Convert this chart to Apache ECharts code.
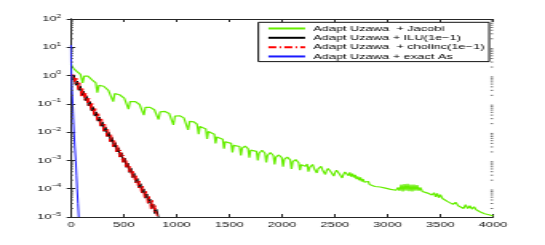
<!DOCTYPE html>
<html>
<head>
<meta charset="utf-8">
<script src="https://cdn.jsdelivr.net/npm/echarts@6/dist/echarts.min.js"></script>
<style>
html,body{margin:0;padding:0;background:#fff;overflow:hidden;}
#c{width:341px;height:245px;transform:scaleX(1.59824);transform-origin:0 0;}
</style>
</head>
<body>
<div id="c"></div>
<script>
const legendNames = ['Adapt Uzawa  + Jacobi', 'Adapt Uzawa + ILU(1e\u22121)', 'Adapt Uzawa  + cholinc(1e\u22121)', 'Adapt Uzawa + exact As'];
const xTicks = [0, 500, 1000, 1500, 2000, 2500, 3000, 3500, 4000];
const yDecades = [1e-5, 1e-4, 1e-3, 1e-2, 1e-1, 1e0, 1e1, 1e2];
const minorSteps = [2, 3, 4, 5, 6, 7, 8, 9];

const jacobiIter = [0,10,30,60,90,110,125,160,200,235,250,265,310,355,385,400,415,460,505,530,545,560,610,650,675,690,705,750,790,815,830,845,890,930,955,970,985,1030,1070,1095,1110,1125,1165,1195,1210,
1222,1250,1278,1290,1302,1330,1358,1370,1382,1410,1438,1450,1462,1490,1518,1530,1542,1570,1598,1610,1622,1650,1678,1690,1702,1730,1758,1770,1782,1810,1838,1850,1862,1890,1918,1930,1942,1970,1998,2010,2022,2050,2078,2090,2102,2130,2158,2170,2182,2210,2222,2238,2250,2262,2276,2290,2304,2318,2330,2342,2356,2370,2384,2398,2410,2422,2436,2450,2464,2478,2490,2502,2516,2530,2544,2558,2570,2582,2596,2610,
2630,2642,2655,2668,2680,2693,2705,2718,2730,2743,2755,2768,2780,2793,2805,2818,2830,2855,2880,2905,2930,2955,2980,3005,3030,3055,3080,3100,3115,3130,3145,3160,3175,3190,3205,3220,3235,3250,3265,3280,3295,3310,3330,3355,3380,3400,3420,3440,3455,3470,3485,3500,3520,3545,3570,3595,3620,3645,3670,3695,3720,3740,3760,3780,3800,3820,3840,3860,3880,3900,3920,3940,3960,3980,4000];
const jacobiRes = [2.6,2.1,1.7,1.35,1.1,0.55,0.95,0.95,0.7,0.55,0.25,0.45,0.42,0.3,0.26,0.12,0.23,0.21,0.16,0.14,0.065,0.12,0.12,0.095,0.085,0.04,0.075,0.075,0.062,0.055,0.028,0.052,0.054,0.046,0.041,0.018,0.037,0.038,0.032,0.028,0.012,0.024,0.023,0.019,0.0085,
0.016,0.0165,0.013,0.0058,0.0105,0.012,0.0085,0.004,0.0068,0.0075,0.0056,0.0026,0.0046,0.0054,0.004,0.0019,0.0034,0.004,0.0031,0.0015,0.0027,0.0032,0.0026,0.00125,0.0023,0.0027,0.0021,0.001,0.0018,0.0023,0.0018,0.00085,0.0015,0.0019,0.0015,0.00072,0.0013,0.00156,0.00125,0.0006,0.0011,0.0013,0.00105,0.0005,0.0009,0.00107,0.00083,0.00045,0.00071,0.00083,0.00062,0.00074,0.0004,0.00057,0.00066,0.00072,0.00052,0.00059,0.00036,0.0005,0.00058,0.00062,0.00046,0.00051,0.00032,0.00044,0.00052,0.00054,0.00039,0.00043,0.00028,0.00037,0.00045,0.00044,0.00033,0.00037,0.00024,0.00032,0.00039,0.00036,
0.00029,0.00038,0.00027,0.00034,0.00025,0.00031,0.00022,0.00027,0.0002,0.00025,0.00018,0.00022,0.00017,0.0002,0.00015,0.00018,0.00014,0.00016,0.00012,0.00014,0.000115,0.000125,0.000105,0.000112,0.000095,0.0001,0.000088,0.00011,0.000085,0.00014,0.00008,0.000145,0.000085,0.00015,0.000082,0.00014,0.00008,0.00014,0.000085,0.000135,0.000085,0.00011,0.00008,0.000085,0.00007,0.000078,0.00006,0.000072,0.000052,0.000068,0.000048,0.000062,0.000045,0.000048,0.000035,0.000038,0.000028,0.000033,0.000025,0.000028,0.00002,0.000027,0.00002,0.000025,0.000019,0.000023,0.000018,0.00002,0.000015,0.000017,0.000013,0.000015,0.000012,0.000013,0.000011];

const iluIter = [0,15,30,45,60,75,90,105,120,135,150,165,180,195,210,225,240,255,270,285,300,315,330,345,360,375,390,405,420,435,450,465,480,495,510,525,540,555,570,585,600,615,630,645,660,675,690,705,720,735,750,765,780,795,810,825,830];
const iluRes = [1.12,0.69,0.97,0.455,0.64,0.3,0.42,0.197,0.278,0.13,0.183,0.0855,0.12,0.056,0.079,0.037,0.052,0.0244,0.0344,0.0161,0.0226,0.0106,0.0149,0.00697,0.0098,0.00458,0.00646,0.00302,0.00426,0.00199,0.0028,0.00131,0.00185,0.00086,0.00121,0.000568,0.0008,0.000373,0.000526,0.000246,0.000347,0.000162,0.000228,0.000107,0.00015,0.0000702,0.0000989,0.0000462,0.0000652,0.0000304,0.0000429,0.00002,0.0000283,0.0000132,0.0000186,0.0000115,0.00001];

const cholIter = [0,8,22,37,52,67,82,97,112,127,142,157,172,187,202,217,232,247,262,277,292,307,322,337,352,367,382,397,412,427,442,457,472,487,502,517,532,547,562,577,592,607,622,637,652,667,682,697,712,727,742,757,772,787,800,812,820];
const cholRes = [1.15,0.85,1.11,0.506,0.82,0.317,0.56,0.173,0.369,0.136,0.242,0.0895,0.159,0.0587,0.104,0.0386,0.0684,0.0253,0.0449,0.0166,0.0294,0.0109,0.0193,0.00714,0.0127,0.00469,0.00832,0.00308,0.00546,0.00202,0.00358,0.00132,0.00235,0.00087,0.00154,0.00057,0.00101,0.000374,0.000664,0.000245,0.000436,0.000161,0.000286,0.000106,0.000188,0.0000693,0.000123,0.0000455,0.0000807,0.0000299,0.000053,0.0000183,0.0000418,0.0000151,0.0000251,0.000012,0.00001];

const exactIter = [0,1,4,10,16,22,28,36,45,52,58,66,73];
const exactRes = [12,3,0.9,0.3,0.1,0.03,0.01,0.003,0.001,0.0003,0.0001,0.00003,0.00001];

function pairs(xs, ys){ return xs.map((x,i)=>[x, ys[i]]); }

const minorValues = [];
yDecades.slice(0, -1).forEach(d => minorSteps.forEach(m => minorValues.push([d, m])));

const FONT = 'Liberation Sans';
const AX = '#262626';
const chart = echarts.init(document.getElementById('c'), null, {renderer:'canvas'});

function yLabel(v){
  const e = Math.round(Math.log10(v));
  return '{b|10}{s|' + (e < 0 ? '\u2212' + (-e) : String(e)) + '}';
}

const xCommon = {type:'value', min:xTicks[0], max:xTicks[xTicks.length-1], interval:500,
  axisLine:{show:true, lineStyle:{color:AX, width:1}}, splitLine:{show:false}};
const yCommon = {type:'log', logBase:10, min:yDecades[0], max:yDecades[yDecades.length-1],
  axisLine:{show:true, lineStyle:{color:AX, width:1}}, splitLine:{show:false}, minorTick:{show:false}};

const noSym = {showSymbol:false, symbol:'none', symbolSize:0};

chart.setOption({
  animation:false,
  backgroundColor:'#fff',
  grid:{left:44.4, right:32.5, top:19, bottom:28, containLabel:false},
  legend:{
    show:true, orient:'vertical', left:161.6, top:22.3,
    data:legendNames,
    itemWidth:23, itemHeight:9, itemGap:0,
    padding:[1.5,3,0.5,5.3],
    backgroundColor:'#fff', borderColor:'#111', borderWidth:1,
    itemStyle:{opacity:0},
    textStyle:{fontFamily:FONT, fontSize:8, color:'#000', lineHeight:9.33},
    selectedMode:false
  },
  xAxis:[
    Object.assign({}, xCommon, {position:'bottom',
      axisTick:{show:true, inside:true, length:3, lineStyle:{color:AX}},
      axisLabel:{show:true, margin:4, fontFamily:FONT, fontSize:8, color:'#111', formatter:v => String(v)}}),
    Object.assign({}, xCommon, {position:'top',
      axisTick:{show:true, inside:true, length:3, lineStyle:{color:AX}},
      axisLabel:{show:false}})
  ],
  yAxis:[
    Object.assign({}, yCommon, {position:'left',
      axisTick:{show:true, inside:true, length:2.7, lineStyle:{color:AX}},
      axisLabel:{show:true, margin:6, formatter:yLabel,
        rich:{b:{fontFamily:FONT, fontSize:8, color:'#111'},
              s:{fontFamily:FONT, fontSize:5.5, color:'#111', padding:[0,0,6,0]}}}}),
    Object.assign({}, yCommon, {position:'right',
      axisTick:{show:true, inside:true, length:2.7, lineStyle:{color:AX}},
      axisLabel:{show:false}})
  ],
  series:[
    Object.assign({name:legendNames[0], type:'line', data:pairs(jacobiIter, jacobiRes),
      lineStyle:{color:'#66ee00', width:1.2}, itemStyle:{color:'#66ee00', opacity:0}, z:2}, noSym),
    Object.assign({name:legendNames[1], type:'line', data:pairs(iluIter, iluRes),
      lineStyle:{color:'#000', width:1}, itemStyle:{color:'#000', opacity:0}, z:3}, noSym),
    Object.assign({name:legendNames[2], type:'line', data:pairs(cholIter, cholRes),
      lineStyle:{color:'#ff0000', width:1, type:[5,2,1,2]}, itemStyle:{color:'#ff0000', opacity:0}, z:4}, noSym),
    Object.assign({name:legendNames[3], type:'line', data:pairs(exactIter, exactRes),
      lineStyle:{color:'#1a1aff', width:1}, itemStyle:{color:'#1a1aff', opacity:0}, z:5}, noSym),
    {type:'custom', silent:true, z:10, clip:false,
      data:minorValues,
      renderItem:function(params, api){
        const v = api.value(0) * api.value(1);
        const l = api.coord([xTicks[0], v]);
        const r = api.coord([xTicks[xTicks.length-1], v]);
        const st = {stroke:'#555', lineWidth:0.8};
        return {type:'group', children:[
          {type:'line', shape:{x1:l[0], y1:l[1], x2:l[0]+1.6, y2:l[1]}, style:st},
          {type:'line', shape:{x1:r[0]-1.6, y1:r[1], x2:r[0], y2:r[1]}, style:st}
        ]};
      }}
  ]
});
</script>
</body>
</html>
